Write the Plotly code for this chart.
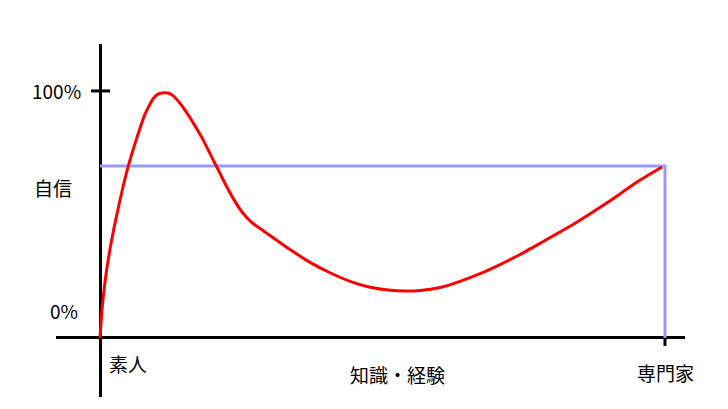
import plotly.graph_objects as go

# Dunning-Kruger style curve (x: knowledge 0..100, y: confidence %)
curve_x = [0, 0.35, 0.88, 1.59, 2.48, 3.54, 4.96, 6.55, 7.96, 9.38, 10.27, 10.97,
           12.04, 12.92, 14.16, 15.40, 16.64, 18.23, 19.47, 20.35, 21.24, 22.48,
           23.72, 25.13, 26.55, 28.32, 30.09, 33.63, 37.17, 40.71, 44.25, 47.79,
           51.33, 53.98, 56.64, 60.18, 63.72, 67.26, 70.80, 74.34, 77.88, 83.72,
           89.73, 95.58, 99.47]
curve_y = [0, 11.34, 22.67, 33.60, 44.53, 55.87, 69.23, 81.20, 90.60, 96.80, 98.70, 99.19,
           99.19, 98.10, 95.00, 91.00, 86.50, 80.30, 74.60, 70.60, 66.60, 61.00,
           55.90, 51.00, 47.40, 44.30, 41.50, 35.80, 30.60, 26.40, 22.90, 20.50,
           19.30, 19.00, 19.20, 20.40, 22.90, 26.00, 29.70, 33.80, 38.30, 45.90,
           54.70, 63.90, 69.23]

confidence_level = 69.6
expert_x = 100

guide_x = [0, expert_x, expert_x]
guide_y = [confidence_level, confidence_level, 0]

font = "Noto Sans CJK JP"

fig = go.Figure()

fig.add_trace(go.Scatter(x=guide_x, y=guide_y, mode="lines",
                         line=dict(color="#9a9af5", width=3), hoverinfo="skip"))
fig.add_trace(go.Scatter(x=curve_x, y=curve_y, mode="lines",
                         line=dict(color="#ff0000", width=3, shape="spline", smoothing=0.5),
                         hoverinfo="skip"))
# tick marks
fig.add_trace(go.Scatter(x=[-1.59, 1.77], y=[100, 100], mode="lines",
                         line=dict(color="black", width=3), hoverinfo="skip"))
fig.add_trace(go.Scatter(x=[expert_x, expert_x], y=[0, -3.2], mode="lines",
                         line=dict(color="black", width=3), hoverinfo="skip"))

labels = [
    dict(text="100%", x=-3.0, y=100, xanchor="right"),
    dict(text="自信", x=-4.6, y=61.1, xanchor="right"),
    dict(text="0%", x=-3.5, y=11.3, xanchor="right"),
    dict(text="素人", x=1.2, y=-10.5, xanchor="left"),
    dict(text="知識・経験", x=52.6, y=-14.6, xanchor="center"),
    dict(text="専門家", x=100, y=-13.8, xanchor="center"),
]
for lb in labels:
    fig.add_annotation(x=lb["x"], y=lb["y"], text=lb["text"], xanchor=lb["xanchor"],
                       yanchor="middle", showarrow=False,
                       font=dict(family=font, size=19, color="black"))

fig.update_layout(
    width=728, height=409,
    margin=dict(l=48, r=51, t=36, b=20),
    paper_bgcolor="white", plot_bgcolor="white",
    showlegend=False,
    xaxis=dict(range=[-7.79, 103.54], showgrid=False, showticklabels=False, ticks="",
               showline=False, zeroline=True, zerolinecolor="black", zerolinewidth=3),
    yaxis=dict(range=[-23.9, 119.0], showgrid=False, showticklabels=False, ticks="",
               showline=False, zeroline=True, zerolinecolor="black", zerolinewidth=3),
)

fig.write_html("out.html")
